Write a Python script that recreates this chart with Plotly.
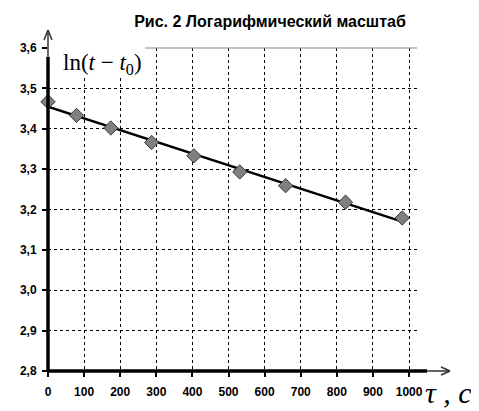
import numpy as np
import plotly.graph_objects as go

# Data
tau_s = [0, 79, 174, 287, 404, 531, 658, 824, 981]
ln_dt = [3.467, 3.433, 3.402, 3.366, 3.333, 3.293, 3.259, 3.218, 3.179]
x_ticks = [0, 100, 200, 300, 400, 500, 600, 700, 800, 900, 1000]
y_ticks = [2.8, 2.9, 3.0, 3.1, 3.2, 3.3, 3.4, 3.5, 3.6]

# Trend line (least squares, as in the spreadsheet)
k, b = np.polyfit(tau_s, ln_dt, 1)
trend_x = [min(tau_s), max(tau_s)]
trend_y = [k * v + b for v in trend_x]

# the page body has an 8px margin, so the figure is drawn 8px in
OFF = 8
W, H = 479 - OFF, 411 - OFF
L, T = 48 - OFF, 48 - OFF
R, B = W - (417 - OFF), H - (371 - OFF)
PW, PH = W - L - R, H - T - B


def px(x):
    # window pixel -> paper x
    return (x - OFF - L) / PW


def py(y):
    # window pixel -> paper y
    return (H + OFF - B - y) / PH


fig = go.Figure()

fig.add_trace(go.Scatter(
    x=trend_x, y=trend_y, mode="lines",
    line=dict(color="black", width=2.5),
    hoverinfo="skip", showlegend=False))

fig.add_trace(go.Scatter(
    x=tau_s, y=ln_dt, mode="markers",
    marker=dict(symbol="diamond", size=11, color="#808080",
                line=dict(color="#3a3a3a", width=1)),
    showlegend=False, cliponaxis=False))

shapes = []
# axis lines with arrows
shapes.append(dict(type="line", xref="paper", yref="paper",
                   x0=px(48), x1=px(48), y0=py(372), y1=py(57),
                   line=dict(color="black", width=3.5)))
shapes.append(dict(type="line", xref="paper", yref="paper",
                   x0=px(47), x1=px(427), y0=py(371), y1=py(371),
                   line=dict(color="black", width=3.5)))
for seg in [((48, 57), (48, 30)), ((48, 30), (44, 40)), ((48, 30), (52, 40)),
            ((427, 371), (450, 371)), ((450, 371), (441, 367)), ((450, 371), (441, 375))]:
    (xa, ya), (xb, yb) = seg
    shapes.append(dict(type="line", xref="paper", yref="paper",
                       x0=px(xa), x1=px(xb), y0=py(ya), y1=py(yb),
                       line=dict(color="#333333", width=1.5)))
# white box behind the y label, solid gray top border
shapes.append(dict(type="rect", xref="paper", yref="paper", layer="above",
                   x0=px(50), x1=px(145), y0=py(76), y1=py(47),
                   fillcolor="white", line=dict(width=0)))
shapes.append(dict(type="line", xref="paper", yref="paper", layer="above",
                   x0=px(145), x1=px(417), y0=1, y1=1,
                   line=dict(color="#888888", width=1)))

tickfont = dict(family="Liberation Sans", size=12, color="black")

fig.update_layout(
    width=W, height=H,
    margin=dict(l=L, r=R, t=T, b=B),
    paper_bgcolor="white", plot_bgcolor="white",
    title=dict(text="<b>Рис. 2 Логарифмический масштаб</b>",
               x=(270 - OFF) / W, xanchor="center", y=1 - (21 - OFF) / H, yanchor="middle",
               font=dict(family="Liberation Sans", size=16, color="black")),
    xaxis=dict(range=[0, 1022], tickvals=x_ticks,
               ticktext=["<b>%d</b>" % v for v in x_ticks],
               automargin=False,
               showgrid=True, gridcolor="black", gridwidth=1, griddash="3px,3px",
               showline=False, zeroline=False,
               ticks="outside", ticklen=5, tickwidth=2, tickcolor="black",
               ticklabelstandoff=5, tickfont=tickfont),
    yaxis=dict(range=[2.8, 3.6], tickvals=y_ticks,
               ticktext=["<b>%s</b>" % ("%.1f" % v).replace(".", ",") for v in y_ticks],
               automargin=False,
               showgrid=True, gridcolor="black", gridwidth=1, griddash="3px,3px",
               showline=False, zeroline=False,
               ticks="outside", ticklen=5, tickwidth=2, tickcolor="black",
               ticklabelstandoff=3, tickfont=tickfont),
    shapes=shapes,
    annotations=[
        dict(text="ln(<i>t</i> − <i>t</i><sub>0</sub>)", xref="paper", yref="paper",
             x=px(102), y=py(64), xanchor="center", yanchor="middle", showarrow=False,
             font=dict(family="Liberation Serif", size=23, color="black")),
        dict(text="<i>τ , c</i>", xref="paper", yref="paper",
             x=px(474), y=py(392), xanchor="right", yanchor="middle", showarrow=False,
             font=dict(family="Liberation Serif", size=30, color="black")),
    ],
)

fig.write_html("out.html")
